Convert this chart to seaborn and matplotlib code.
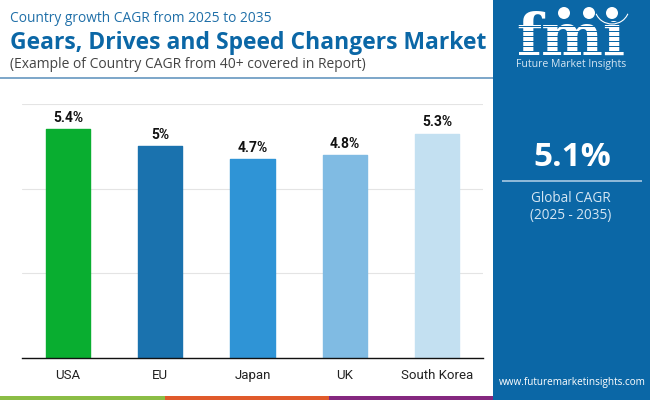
import matplotlib
matplotlib.use('Agg')
import matplotlib.pyplot as plt
from matplotlib.patches import Rectangle, Circle, Arc
import seaborn as sns
import pandas as pd

countries = ['USA', 'EU', 'Japan', 'UK', 'South Korea']
cagr = [5.4, 5.0, 4.7, 4.8, 5.3]
value_labels = ['5.4%', '5%', '4.7%', '4.8%', '5.3%']
bar_colors = ['#09AE30', '#1A72AE', '#2F94D6', '#80BBE3', '#C3E0F1']
y_ticks = [0, 2, 4, 6]

W, H = 650, 400
BLUE = '#0B67A6'
SANS = ['Open Sans', 'DejaVu Sans']

sns.set_theme(style='white')
plt.rcParams['font.family'] = ['Roboto', 'DejaVu Sans']

df = pd.DataFrame({'country': countries, 'cagr': cagr})

fig = plt.figure(figsize=(6.5, 4), dpi=100, facecolor='white')

# chart area in pixels: x 22-483, baseline y 358
ax = fig.add_axes([22 / W, 1 - 358 / H, 461 / W, 254 / H])
sns.barplot(data=df, x='country', y='cagr', hue='country', palette=bar_colors,
            legend=False, width=0.48, ax=ax, saturation=1)
for bar, c in zip(ax.patches, bar_colors):
    bar.set_edgecolor(c)
    bar.set_linewidth(1)
    bar.set_joinstyle('round')
for bar, label in zip(ax.patches, value_labels):
    ax.annotate(label, (bar.get_x() + bar.get_width() / 2, bar.get_height()),
                xytext=(0, 3), textcoords='offset points', ha='center', va='bottom',
                fontsize=10, fontweight='bold', color='#111111')
ax.set_ylim(0, 6)
ax.set_xlim(-0.5, 4.5)
ax.set_yticks(y_ticks)
ax.set_yticklabels([])
ax.grid(True, axis='y', color='#E4E4E4', linewidth=0.8)
ax.set_axisbelow(True)
ax.set_xlabel('')
ax.set_ylabel('')
ax.tick_params(axis='x', length=0, pad=8, labelsize=9.5, labelcolor='#222222')
ax.tick_params(axis='y', length=0)
sns.despine(ax=ax, left=True)
ax.spines['bottom'].set_color('#111111')
ax.spines['bottom'].set_linewidth(1)

# overlay in pixel coordinates for header, panel and logo
ov = fig.add_axes([0, 0, 1, 1], zorder=5)
ov.set_xlim(0, W)
ov.set_ylim(H, 0)
ov.axis('off')

ov.text(10, 18, 'Country growth CAGR from 2025 to 2035', fontsize=9.9, color='#1F6FA8',
        family=SANS, va='center')
ov.text(10, 43, 'Gears, Drives and Speed Changers Market', fontsize=16.5, fontweight='bold',
        color=BLUE, family=SANS, va='center')
ov.text(10, 64, '(Example of Country CAGR from 40+ covered in Report)', fontsize=10,
        color='#444444', family=SANS, va='center')
ov.add_patch(Rectangle((0, 77), 493, 2, color='#7FA8CA', lw=0))

# bottom colour strip
ov.add_patch(Rectangle((0, 396), 165, 4, color='#8BBD45', lw=0))
ov.add_patch(Rectangle((165, 396), 164, 4, color='#E05A2B', lw=0))
ov.add_patch(Rectangle((329, 396), 164, 4, color='#85287F', lw=0))

# right panel
ov.add_patch(Rectangle((493, 0), 157, 400, color=BLUE, lw=0))
ov.text(572, 158, '5.1%', fontsize=24, fontweight='bold', color='white', ha='center',
        va='center', family=SANS)
ov.add_patch(Rectangle((502, 180), 140, 1.5, color='#8DB8D8', lw=0))
ov.text(571, 198, 'Global CAGR', fontsize=9.8, color='#D5E6F3', ha='center', va='center',
        family=SANS)
ov.text(571, 215, '(2025 - 2035)', fontsize=9.8, color='#D5E6F3', ha='center', va='center',
        family=SANS)
ov.text(572, 383, 'www.futuremarketinsights.com', fontsize=7.2, color='white', ha='center',
        va='center', family=SANS)

# logo
ov.text(571, 55, 'fmi', fontsize=42, fontweight='bold', color='white', ha='center',
        va='baseline', family=['DejaVu Serif'])
for y in range(26, 56, 5):
    ov.add_patch(Rectangle((514, y), 116, 1, color=BLUE, lw=0, zorder=6))
ov.add_patch(Rectangle((605, 0), 20, 21, color=BLUE, lw=0, zorder=6))
for cx, cy in [(564, 13), (589, 13), (612, 13)]:
    ov.add_patch(Circle((cx, cy), 6, color='white', lw=0, zorder=7))
ov.add_patch(Arc((612, 8), 34, 32, theta1=20, theta2=160, color='white', lw=0.8, zorder=7))
ov.text(571, 64, 'Future Market Insights', fontsize=7.6, color='#D5E6F3', ha='center',
        va='center', family=SANS)

fig.savefig('out.png', dpi=100)
